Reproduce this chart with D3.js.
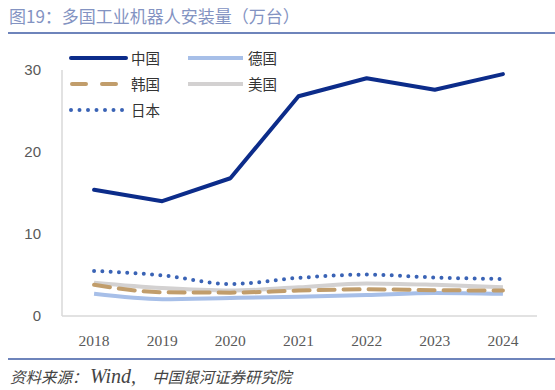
<!DOCTYPE html>
<html>
<head>
<meta charset="utf-8">
<script src="https://cdn.jsdelivr.net/npm/d3@7/dist/d3.min.js"></script>
<style>
	body { margin: 0; background: #fff; }
	svg { display: block; }
</style>
</head>
<body>
<svg width="555" height="390"></svg>
<script>
// Industrial robot installations by country (10k units)

var years = ["2018", "2019", "2020", "2021", "2022", "2023", "2024"];
var china = [15.4, 14.0, 16.8, 26.8, 29.0, 27.6, 29.5];
var germany = [2.7, 2.05, 2.2, 2.35, 2.55, 2.8, 2.7];
var korea = [3.8, 2.9, 2.85, 3.1, 3.25, 3.15, 3.1];
var usa = [4.05, 3.4, 3.1, 3.5, 3.97, 3.8, 3.5];
var japan = [5.5, 4.95, 3.9, 4.65, 5.05, 4.7, 4.5];
var y_ticks = [0, 10, 20, 30];

var series = [
	{name: "美国", values: usa, color: "#d3d1d1", dash: null, cap: "butt", curve: d3.curveMonotoneX},
	{name: "德国", values: germany, color: "#a7bfe8", dash: null, cap: "butt", curve: d3.curveMonotoneX},
	{name: "韩国", values: korea, color: "#c19d6b", dash: "16,9", cap: "round", curve: d3.curveMonotoneX},
	{name: "日本", values: japan, color: "#3a63b5", dash: "0,8.3", cap: "round", curve: d3.curveMonotoneX},
	{name: "中国", values: china, color: "#0c2c8a", dash: null, cap: "round", curve: d3.curveLinear}
];

var svg = d3.select("svg");
var cjk = "'Noto Sans CJK SC', 'Noto Sans', sans-serif";
var num_font = "'Liberation Serif', 'DejaVu Serif', serif";
var sans = "'Liberation Sans', Arial, sans-serif";

// title and rules
svg.append("text")
	.attr("x", 9).attr("y", 23)
	.attr("font-family", cjk).attr("font-size", 17)
	.attr("fill", "#8393c2")
	.text("图19：多国工业机器人安装量（万台）");
svg.append("line")
	.attr("x1", 8).attr("x2", 555).attr("y1", 33).attr("y2", 33)
	.attr("stroke", "#6e84bb").attr("stroke-width", 2);
svg.append("line")
	.attr("x1", 8).attr("x2", 555).attr("y1", 359).attr("y2", 359)
	.attr("stroke", "#6e84bb").attr("stroke-width", 2);
var source = svg.append("text")
	.attr("y", 383)
	.attr("font-family", cjk).attr("font-size", 15.5)
	.attr("font-style", "italic")
	.attr("fill", "#444");
source.append("tspan").attr("x", 10).text("资料来源：");
source.append("tspan").attr("x", 90)
	.attr("font-family", num_font).attr("font-size", 20)
	.text("Wind,");
source.append("tspan").attr("x", 152).text("中国银河证券研究院");

var x = d3.scaleBand().domain(years).range([60, 537]);
var y = d3.scaleLinear().domain([0, 30]).range([316, 70]);

// axes
svg.append("line")
	.attr("x1", 62).attr("x2", 62).attr("y1", y(30)).attr("y2", y(0))
	.attr("stroke", "#d9d9d9").attr("stroke-width", 1.5);
svg.append("line")
	.attr("x1", 62).attr("x2", 537).attr("y1", y(0)).attr("y2", y(0))
	.attr("stroke", "#d9d9d9").attr("stroke-width", 1.5);

svg.append("g").selectAll("text")
	.data(y_ticks)
	.enter().append("text")
	.attr("x", 41).attr("y", d => y(d) + 5)
	.attr("text-anchor", "end")
	.attr("font-family", sans).attr("font-size", 15)
	.attr("fill", "#595959")
	.text(d => d);

svg.append("g").selectAll("text")
	.data(years)
	.enter().append("text")
	.attr("x", d => x(d) + x.bandwidth() / 2).attr("y", 346)
	.attr("text-anchor", "middle")
	.attr("font-family", num_font).attr("font-size", 15.5)
	.attr("fill", "#595959")
	.text(d => d);

// lines
series.forEach(s => {
	var line = d3.line()
		.x((v, i) => x(years[i]) + x.bandwidth() / 2)
		.y(v => y(v))
		.curve(s.curve);
	svg.append("path")
		.datum(s.values)
		.attr("d", line)
		.attr("fill", "none")
		.attr("stroke", s.color)
		.attr("stroke-width", 4)
		.attr("stroke-linecap", s.cap)
		.attr("stroke-linejoin", "round")
		.attr("stroke-dasharray", s.dash);
});

// legend
var legend_items = [
	{s: "中国", x: 70, y: 58},
	{s: "德国", x: 187, y: 58},
	{s: "韩国", x: 70, y: 84},
	{s: "美国", x: 187, y: 84},
	{s: "日本", x: 70, y: 110}
];
var legend = svg.append("g").selectAll("g")
	.data(legend_items)
	.enter().append("g")
	.attr("transform", d => "translate(" + d.x + "," + d.y + ")");
legend.append("line")
	.attr("x1", d => d.s == "韩国" ? 2 : 1).attr("x2", 56)
	.attr("stroke", d => series.find(s => s.name == d.s).color)
	.attr("stroke-width", 4)
	.attr("stroke-linecap", d => series.find(s => s.name == d.s).cap)
	.attr("stroke-dasharray", d => d.s == "韩国" ? "14,16" : (d.s == "日本" ? "0,8.5" : null));
legend.append("text")
	.attr("x", 61).attr("y", 5.5)
	.attr("font-family", cjk).attr("font-size", 14.5)
	.attr("fill", "#333")
	.text(d => d.s);
</script>
</body>
</html>
